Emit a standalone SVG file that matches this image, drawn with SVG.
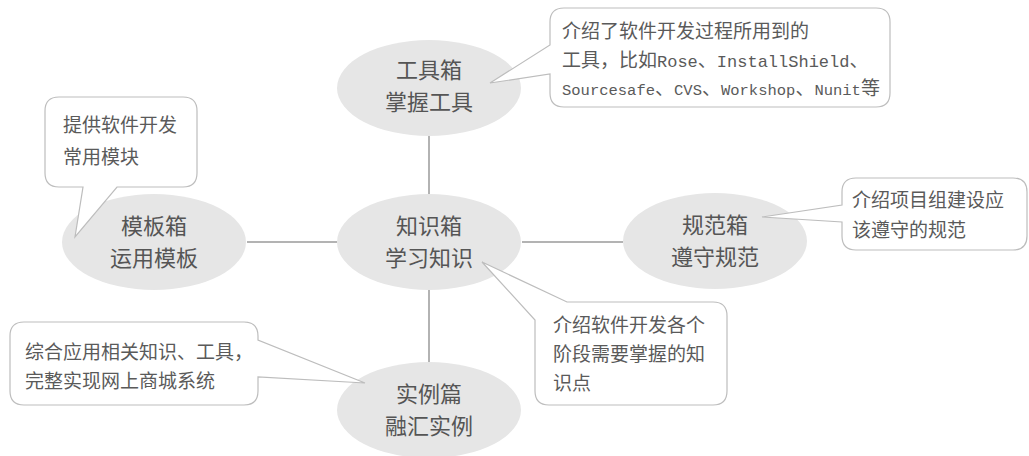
<svg xmlns="http://www.w3.org/2000/svg" width="1029" height="456" viewBox="0 0 1029 456">
<style>
.node ellipse{fill:#e6e6e6;stroke:none}
.nt{font-family:"Noto Sans CJK SC",sans-serif;font-size:22px;fill:#555;text-anchor:middle}
.co path{fill:#fff;stroke:#bdbdbd;stroke-width:1.2}
.ct{font-family:"Noto Sans CJK SC",sans-serif;font-size:19px;fill:#5a5a5a}
.m{font-family:"Liberation Mono",monospace}
.conn line{stroke:#9a9a9a;stroke-width:1.5}
</style>
<rect width="1029" height="456" fill="#fff"/>
<g id="connectors" class="conn">
<line x1="429" y1="136" x2="429" y2="194"/>
<line x1="429" y1="290" x2="429" y2="362"/>
<line x1="247" y1="242" x2="337" y2="242"/>
<line x1="522" y1="242" x2="623" y2="242"/>
</g>
<g id="node-tools" class="node"><ellipse cx="429" cy="88" rx="92" ry="48"/><text class="nt" x="429" y="78">工具箱</text><text class="nt" x="429" y="110">掌握工具</text></g>
<g id="node-knowledge" class="node"><ellipse cx="429" cy="242" rx="92" ry="48"/><text class="nt" x="429" y="234">知识箱</text><text class="nt" x="429" y="266">学习知识</text></g>
<g id="node-template" class="node"><ellipse cx="154" cy="242" rx="92" ry="48"/><text class="nt" x="154" y="234">模板箱</text><text class="nt" x="154" y="266">运用模板</text></g>
<g id="node-standard" class="node"><ellipse cx="715" cy="241" rx="92" ry="48"/><text class="nt" x="715" y="233">规范箱</text><text class="nt" x="715" y="265">遵守规范</text></g>
<g id="node-example" class="node"><ellipse cx="429" cy="410" rx="92" ry="48"/><text class="nt" x="429" y="402">实例篇</text><text class="nt" x="429" y="434">融汇实例</text></g>
<g id="callout-tools" class="co"><path d="M564 8 H876 Q890 8 890 22 V93 Q890 107 876 107 H564 Q550 107 550 93 V74 L490 83 L550 45 V22 Q550 8 564 8 Z"/>
<text class="ct" x="562" y="38">介绍了软件开发过程所用到的</text>
<text class="ct" x="562" y="67">工具，比如<tspan class="m" font-size="17">Rose</tspan>、<tspan class="m" font-size="17">InstallShield</tspan>、</text>
<text class="ct" x="562" y="95"><tspan class="m" font-size="15.5">Sourcesafe</tspan>、<tspan class="m" font-size="15.5">CVS</tspan>、<tspan class="m" font-size="15.5">Workshop</tspan>、<tspan class="m" font-size="15.5">Nunit</tspan>等</text></g>
<g id="callout-template" class="co"><path d="M59 97 H183 Q197 97 197 111 V173 Q197 187 183 187 H117 L75 237 L83 187 H59 Q45 187 45 173 V111 Q45 97 59 97 Z"/>
<text class="ct" x="63" y="132">提供软件开发</text><text class="ct" x="63" y="164">常用模块</text></g>
<g id="callout-standard" class="co"><path d="M856 178 H1013 Q1027 178 1027 192 V236 Q1027 250 1013 250 H856 Q842 250 842 236 V222 L762 217 L842 205 V192 Q842 178 856 178 Z"/>
<text class="ct" x="852" y="207">介绍项目组建设应</text><text class="ct" x="852" y="237">该遵守的规范</text></g>
<g id="callout-knowledge" class="co"><path d="M567 302 H713 Q727 302 727 316 V391 Q727 405 713 405 H549 Q535 405 535 391 V320 L482 262 Z"/>
<text class="ct" x="553" y="332">介绍软件开发各个</text><text class="ct" x="553" y="361">阶段需要掌握的知</text><text class="ct" x="553" y="390">识点</text></g>
<g id="callout-example" class="co"><path d="M24 322 H244 Q258 322 258 336 V340 L365 383 L258 377 V391 Q258 405 244 405 H24 Q10 405 10 391 V336 Q10 322 24 322 Z"/>
<text class="ct" x="25" y="359">综合应用相关知识、工具，</text><text class="ct" x="25" y="388">完整实现网上商城系统</text></g>
</svg>
